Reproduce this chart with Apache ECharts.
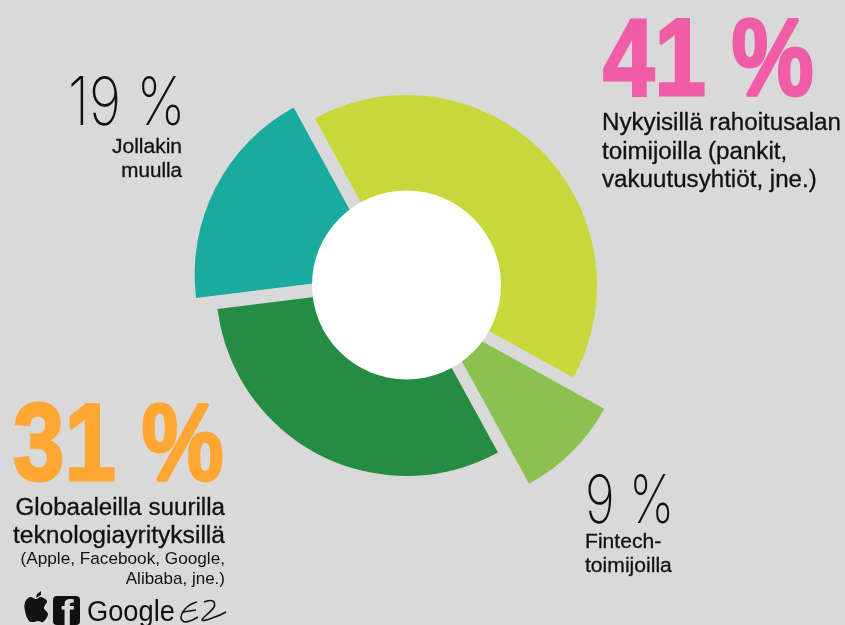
<!DOCTYPE html>
<html><head><meta charset="utf-8">
<style>html,body{margin:0;padding:0;background:#d9d9d9}#c{width:845px;height:625px}</style>
<script src="https://cdn.jsdelivr.net/npm/echarts@6/dist/echarts.min.js"></script>
</head><body><div id="c"></div>
<script>
const categories = ["Nykyisillä rahoitusalan toimijoilla", "Fintech-toimijoilla", "Globaaleilla suurilla teknologiayrityksillä", "Jollakin muulla"];
const shares = [41, 9, 31, 19];
const sliceColors = ["#c8d73a", "#8bc24f", "#258c44", "#1aaa9f"];
const sliceOffsets = [0, 44, 0, 24];
const bold = '"Liberation Sans", Arial, sans-serif';
const thin = 'Inter, sans-serif';

function t(text, x, baseline, size, opt) {
  opt = opt || {};
  const y = baseline + 0.21 * size;
  return { type: 'text', z: 50, silent: true, x: x, y: y,
    scaleX: opt.sx || 1, scaleY: 1, style: {
    text: text, font: (opt.weight || 'normal') + ' ' + size + 'px ' + (opt.family || bold),
    fill: opt.fill || '#111', align: opt.align || 'left', verticalAlign: 'bottom',
    stroke: opt.stroke || null, lineWidth: opt.lw || 0 } };
}
const med = { stroke: '#111', lw: 0.3 };
const graphics = [
  { type: 'circle', z: 40, silent: true, shape: { cx: 406.5, cy: 285, r: 94.5 }, style: { fill: '#fff' } },
  t('41 %', 603, 97, 110, { weight: 'bold', fill: '#f05ca5', stroke: '#f05ca5', lw: 3, sx: 0.84 }),
  t('31 %', 13, 482, 110, { weight: 'bold', fill: '#ffa733', stroke: '#ffa733', lw: 3, sx: 0.84 }),
  t('19 %', 68, 124, 67, { family: thin, weight: '200', sx: 0.82 }),
  t('9 %', 585, 522, 67, { family: thin, weight: '200', sx: 0.76 }),
  t('Nykyisillä rahoitusalan', 602, 130, 23, Object.assign({ sx: 1.05 }, med)),
  t('toimijoilla (pankit,', 602, 159, 23, Object.assign({ sx: 1.05 }, med)),
  t('vakuutusyhtiöt, jne.)', 602, 187, 23, Object.assign({ sx: 1.05 }, med)),
  t('Globaaleilla suurilla', 225, 515, 23, Object.assign({ align: 'right', sx: 1.05 }, med)),
  t('teknologiayrityksillä', 225, 543, 23, Object.assign({ align: 'right', sx: 1.07 }, med)),
  t('(Apple, Facebook, Google,', 225, 564, 17.2, { align: 'right' }),
  t('Alibaba, jne.)', 225, 584, 17, { align: 'right' }),
  t('Jollakin', 182, 153, 20, Object.assign({ align: 'right', sx: 1.05 }, med)),
  t('muulla', 182, 177, 20, Object.assign({ align: 'right', sx: 1.03 }, med)),
  t('Fintech-', 585, 549, 20.5, Object.assign({ sx: 1.03 }, med)),
  t('toimijoilla', 585, 573, 20.5, Object.assign({ sx: 1.03 }, med)),
  { type: 'rect', z: 50, silent: true, shape: { x: 53, y: 596, width: 27, height: 29, r: 4 }, style: { fill: '#111' } },
  t('f', 61, 628, 38, { weight: 'bold', fill: '#d9d9d9' }),
  t('Google', 87, 621, 29, { fill: '#111', sx: 0.94 }),
  { type: 'polygon', z: 50, silent: true, shape: { smooth: 0.35, points: [[36,599],[30,597],[25,602],[25,611],[29,621],[34,622],[38,621],[43,622],[48,614],[44,608],[47,601],[41,597]] }, style: { fill: '#111' } },
  { type: 'polygon', z: 50, silent: true, shape: { points: [[36,598],[37,594],[41,591],[41,595]] }, style: { fill: '#111' } },
  { type: 'polyline', z: 50, silent: true, shape: { smooth: 0.4, points: [[197,602],[187,607],[181,617],[185,622],[198,617]] }, style: { fill: null, stroke: '#111', lineWidth: 1.6 } },
  { type: 'polyline', z: 50, silent: true, shape: { points: [[183,612],[196,610]] }, style: { fill: null, stroke: '#111', lineWidth: 1.4 } },
  { type: 'polyline', z: 50, silent: true, shape: { smooth: 0.4, points: [[204,602],[213,601],[214,607],[202,620],[215,617],[226,612]] }, style: { fill: null, stroke: '#111', lineWidth: 1.6 } }
];

const chart = echarts.init(document.getElementById('c'), null, { renderer: 'canvas' });
chart.setOption({
  animation: false,
  backgroundColor: '#d9d9d9',
  series: categories.map((_, k) => ({
    type: 'pie', center: [406.5, 285.5], radius: [0, 190.5], startAngle: 118.7,
    selectedMode: 'multiple', selectedOffset: sliceOffsets[k], silent: true,
    label: { show: false }, labelLine: { show: false },
    data: categories.map((name, i) => ({
      name: name, value: shares[i], selected: i === k,
      itemStyle: { color: i === k ? sliceColors[i] : 'transparent', borderWidth: 0 }
    }))
  })),
  graphic: graphics
});
</script></body></html>
